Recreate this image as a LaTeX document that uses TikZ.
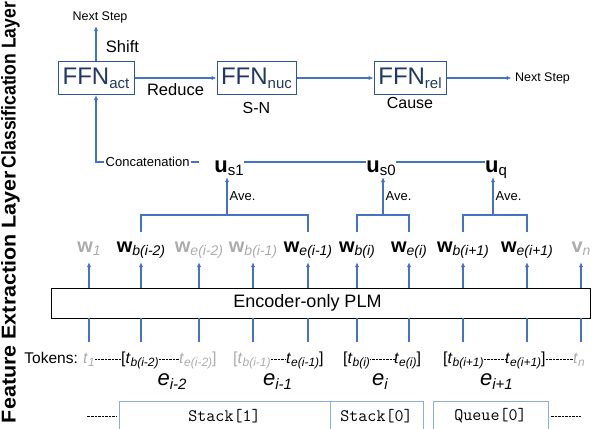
\documentclass[tikz,border=0pt]{standalone}
\usepackage{fontspec}
\setmainfont{Liberation Sans}
\usetikzlibrary{positioning,arrows.meta}

\definecolor{lineblue}{RGB}{68,114,196}
\definecolor{boxblue}{RGB}{47,85,151}
\definecolor{navy}{RGB}{32,56,100}
\definecolor{lightblue}{RGB}{143,170,220}
\definecolor{greytxt}{RGB}{172,172,172}

\newcommand{\fs}[1]{\fontsize{#1}{#1}\selectfont}
\newcommand{\lowsub}[3]{\raisebox{-#2}{\fs{#1}#3}}
\newcommand{\tk}[1]{\textit{t}\lowsub{12}{3pt}{\itshape #1}}
\newcommand{\ek}[1]{\textit{e}\lowsub{15}{4pt}{\itshape #1}}

\begin{document}
\begin{tikzpicture}[x=1pt,y=-1pt,
  arr/.style={draw=lineblue, line width=1.3pt, -{Latex[length=5pt,width=4.5pt]}},
  bl/.style={draw=lineblue, line width=1.3pt},
  ffn/.style={draw=boxblue, line width=1pt, text=navy, minimum height=33pt, inner sep=0pt, font=\fs{24}},
  wnode/.style={anchor=base, inner sep=0pt, text height=10pt, text depth=10pt, font=\fs{20}},
  unode/.style={anchor=base, inner sep=0pt, text height=25pt, text depth=5pt, font=\fs{22}},
  tok/.style={anchor=base west, inner sep=0pt, font=\fs{16}},
  dots/.style={line width=0.7pt, dash pattern=on 0.7pt off 0.7pt},
  qbox/.style={draw=lightblue, line width=1pt, minimum height=30pt, font=\ttfamily\fs{17.5}},
]
\useasboundingbox (0,0) rectangle (596,428);
\clip (0,0) rectangle (596,428);

% layer names
\node[rotate=90, inner sep=0pt] (cls) at (10.5,85) {\resizebox{166pt}{14.5pt}{\bfseries Classification Layer}};
\node[rotate=90, inner sep=0pt] (fea) at (10.5,297) {\resizebox{252pt}{14.5pt}{\bfseries Feature Extraction Layer}};

% classifiers
\node[ffn, minimum width=76pt] (act) at (96,78) {FFN\lowsub{15}{4pt}{act}};
\node[ffn, minimum width=79pt] (nuc) at (256.5,78) {FFN\lowsub{15}{4pt}{nuc}};
\node[ffn, minimum width=72pt] (rel) at (410,78) {FFN\lowsub{15}{4pt}{rel}};
\node[font=\fs{12.5}] (nextU) at (100,17) {Next Step};
\node[font=\fs{12.5}] (nextR) at (542.5,78) {Next Step};
\node[font=\fs{16}, inner sep=0pt, below=7pt of nuc] (sn) {S-N};
\node[font=\fs{16}, inner sep=0pt, below=2pt of rel] (cause) {Cause};
\draw[arr] (act) -- node[right=6pt, pos=0.4, font=\fs{16.5}] {Shift} (act |- nextU.south);
\draw[arr] (act) -- node[below=2pt, font=\fs{16.5}] {Reduce} (nuc);
\draw[arr] (nuc) -- (rel);
\draw[arr] (rel) -- (nextR);

% span vectors
\node[unode] (us1) at (229,172) {\textbf{u}\lowsub{15}{3.5pt}{s1}};
\node[unode] (us0) at (381,172) {\textbf{u}\lowsub{15}{3.5pt}{s0}};
\node[unode] (uq) at (496,172) {\textbf{u}\lowsub{15}{3.5pt}{q}};
\draw[bl] (us1) -- (us0);
\draw[bl] (us0) -- (uq);
\draw[arr] ([xshift=-15pt]us1.west) -| node[pos=0.25, fill=white, inner sep=1.5pt, font=\fs{13}] {Concatenation} (act);

% encoder
\node[draw, line width=0.8pt, minimum width=539pt, minimum height=30pt, inner sep=0pt] (enc) at (320.5,303) {};
\node[font=\fs{18}] (enctext) at (307.5,303) {Encoder-only PLM};

% token vectors
\foreach \nm/\x/\ltr/\wsub/\col in {w1/89/w/1/greytxt, wb2/141/w/b(i-2)/black, we2/199/w/e(i-2)/greytxt,
    wb1/253/w/b(i-1)/greytxt, we1/308/w/e(i-1)/black, wbi/357/w/b(i)/black, wei/409/w/e(i)/black,
    wbn/463/w/b(i+1)/black, wen/527/w/e(i+1)/black, vn/581/v/n/greytxt}{
  \node[wnode, text=\col] (\nm) at (\x,252) {\textbf{\ltr}\lowsub{14}{3.5pt}{\itshape\wsub}};
  \draw[arr] (\nm |- enc.north) -- (\nm);
  \draw[bl] (\nm |- enc.south) -- ++(0,24);
}

% averaging
\coordinate (a1) at (227,215);
\coordinate (a0) at (383,215);
\coordinate (aq) at (493,215);
\draw[bl] ([yshift=10pt]wb2.north) |- (a1) -| ([yshift=10pt]we1.north);
\draw[bl] ([yshift=10pt]wbi.north) |- (a0) -| ([yshift=10pt]wei.north);
\draw[bl] ([yshift=10pt]wbn.north) |- (aq) -| ([yshift=10pt]wen.north);
\draw[arr] (a1) -- node[right, font=\fs{13}, inner sep=2pt] {Ave.} (a1 |- us1.south);
\draw[arr] (a0) -- node[right, font=\fs{13}, inner sep=2pt] {Ave.} (a0 |- us0.south);
\draw[arr] (aq) -- node[right, font=\fs{13}, inner sep=2pt] {Ave.} (aq |- uq.south);

% tokens
\node[tok, anchor=base east, font=\fs{15.5}] (tokl) at (78,363) {Tokens:};
\node[tok, text=greytxt] (tt1) at (83,363) {\tk{1}};
\node[tok] (tb2) at (121,363) {[\tk{b(i-2)}};
\node[tok, text=greytxt] (te2) at (179,363) {\tk{e(i-2)}]};
\node[tok, text=greytxt] (tb1) at (233,363) {[\tk{b(i-1)}};
\node[tok] (te1) at (286,363) {\tk{e(i-1)}]};
\node[tok] (tbi) at (343,363) {[\tk{b(i)}};
\node[tok] (tei) at (394,363) {\tk{e(i)}]};
\node[tok] (tbn) at (443,363) {[\tk{b(i+1)}};
\node[tok] (ten) at (505,363) {\tk{e(i+1)}]};
\node[tok, text=greytxt] (ttn) at (573,363) {\tk{n}};
\draw[dots] ([yshift=4pt]tt1.base east) -- ([yshift=4pt]tb2.base west);
\draw[dots] ([yshift=4pt]tb2.base east) -- ([yshift=4pt]te2.base west);
\draw[dots] ([yshift=4pt]tb1.base east) -- ([yshift=4pt]te1.base west);
\draw[dots] ([yshift=4pt]tbi.base east) -- ([yshift=4pt]tei.base west);
\draw[dots] ([yshift=4pt]tbn.base east) -- ([yshift=4pt]ten.base west);
\draw[dots] ([yshift=4pt]ten.base east) -- ([yshift=4pt]ttn.base west);

% EDUs
\node[anchor=base, font=\fs{22}] (e2) at (172,385) {\ek{i-2}};
\node[anchor=base, font=\fs{22}] (e1) at (277.5,385) {\ek{i-1}};
\node[anchor=base, font=\fs{22}] (ei) at (380,385) {\ek{i}};
\node[anchor=base, font=\fs{22}] (en) at (496.5,385) {\ek{i+1}};

% stack and queue
\node[qbox, minimum width=211pt] (st1) at (224.5,416) {Stack[1]};
\node[qbox, minimum width=93pt] (st0) at (376.5,416) {Stack[0]};
\node[qbox, minimum width=115pt] (qu0) at (490.5,416) {Queue[0]};
\draw[dots] ([xshift=-2pt]st1.west) -- ++(-30,0);
\draw[dots] ([xshift=2pt]qu0.east) -- ++(30,0);
\end{tikzpicture}
\end{document}
